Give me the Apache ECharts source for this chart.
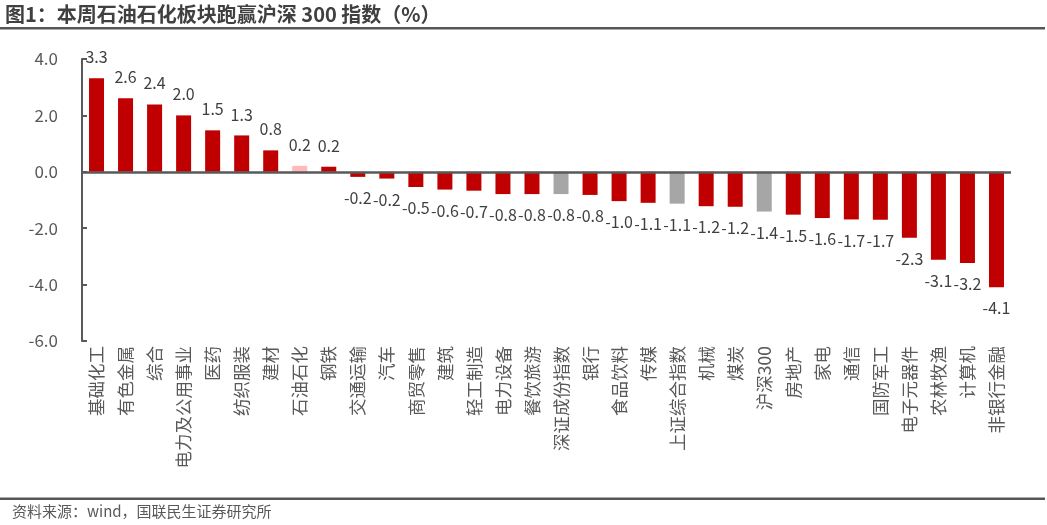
<!DOCTYPE html>
<html>
<head>
<meta charset="utf-8">
<script src="https://cdn.jsdelivr.net/npm/echarts@6/dist/echarts.min.js"></script>
<style>
html,body{margin:0;padding:0;background:#fff;}
#chart{width:1047px;height:525px;}
</style>
</head>
<body>
<div id="chart"></div>
<script>
const categories = ['基础化工','有色金属','综合','电力及公用事业','医药','纺织服装','建材','石油石化','钢铁','交通运输','汽车','商贸零售','建筑','轻工制造','电力设备','餐饮旅游','深证成份指数','银行','食品饮料','传媒','上证综合指数','机械','煤炭','沪深300','房地产','家电','通信','国防军工','电子元器件','农林牧渔','计算机','非银行金融'];
const values = [3.32,2.61,2.39,2.0,1.47,1.29,0.76,0.21,0.18,-0.18,-0.24,-0.54,-0.63,-0.67,-0.79,-0.79,-0.79,-0.82,-1.04,-1.1,-1.13,-1.22,-1.24,-1.41,-1.52,-1.64,-1.69,-1.7,-2.34,-3.12,-3.23,-4.09];
const yTicks = [-6, -4, -2, 0, 2, 4];

const specialColors = {'石油石化':'#FFB9B9','深证成份指数':'#A6A6A6','上证综合指数':'#A6A6A6','沪深300':'#A6A6A6'};
const barData = values.map((v,i)=>({
  value: v,
  itemStyle: {color: specialColors[categories[i]] || '#C00000'},
  label: {position: v >= 0 ? 'top' : 'bottom'}
}));

const chart = echarts.init(document.getElementById('chart'));
chart.setOption({
  animation:false,
  backgroundColor:'#fff',
  grid:{left:82, top:59, width:929, height:282, containLabel:false},
  graphic:[
    {type:'text', left:5, top:4, style:{text:'图1：本周石油石化板块跑赢沪深 300 指数（%）', font:'bold 20px "Noto Sans CJK SC", sans-serif', fill:'#404040'}},
    {type:'rect', shape:{x:0,y:27,width:1045,height:2.5}, style:{fill:'#53575A'}},
    {type:'rect', shape:{x:0,y:497.5,width:1045,height:2.5}, style:{fill:'#53575A'}},
    {type:'text', left:12, top:504, style:{text:'资料来源：wind，国联民生证券研究所', font:'15px "Noto Sans CJK SC", sans-serif', fill:'#595959'}}
  ],
  xAxis:{
    type:'category',
    data:categories,
    axisLine:{show:false, onZero:false},
    axisTick:{show:false},
    axisLabel:{rotate:90, interval:0, margin:5, fontSize:17.5, color:'#595959', fontFamily:'"Noto Sans CJK SC", sans-serif'}
  },
  yAxis:{
    type:'value',
    min:yTicks[0], max:yTicks[yTicks.length-1], interval:2,
    splitLine:{show:false},
    axisLine:{show:true, lineStyle:{color:'#595959', width:2}},
    axisTick:{show:true, inside:true, length:5, lineStyle:{color:'#595959', width:2}},
    axisLabel:{margin:24, fontSize:17, color:'#595959', fontFamily:'"Noto Sans CJK SC", sans-serif', formatter:v=>v.toFixed(1)}
  },
  series:[{
    type:'bar',
    data:barData,
    barWidth:15,
    label:{show:true, distance:13, fontSize:16, color:'#404040', fontFamily:'"Noto Sans CJK SC", sans-serif', formatter:p=>p.value.toFixed(1)},
    markLine:{
      silent:true, symbol:'none', label:{show:false},
      lineStyle:{color:'#595959', width:2.5, type:'solid'},
      data:[{yAxis:0}]
    }
  }]
});
</script>
</body>
</html>
